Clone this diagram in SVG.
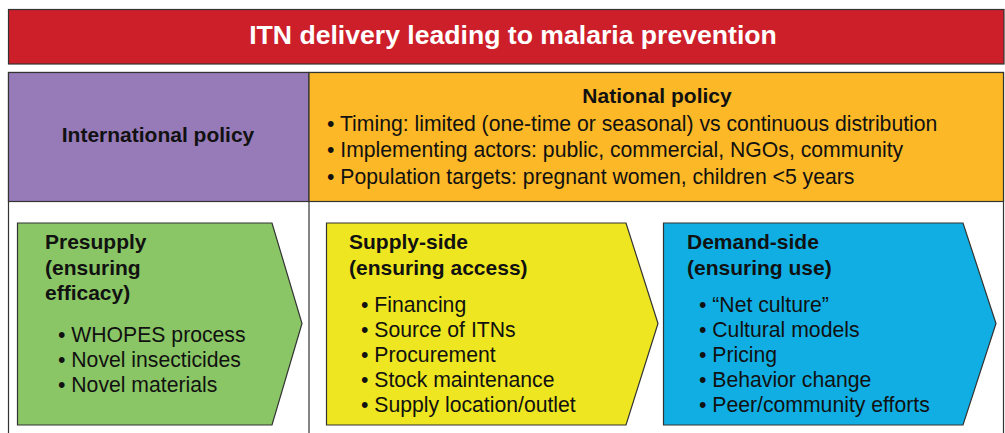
<svg xmlns="http://www.w3.org/2000/svg" width="1005" height="433" viewBox="0 0 1005 433">
<style>
text{font-family:"Liberation Sans",Arial,sans-serif;fill:#111}
.b{font-weight:bold;font-size:21px}
.r{font-size:21.2px}
.t{font-weight:bold;font-size:26.6px;fill:#fff}
.box{stroke:#333;stroke-width:1.2}
</style>
<rect width="1005" height="433" fill="#fff"/>
<g id="title">
<rect class="box" x="8.5" y="9.5" width="995.5" height="54.5" fill="#CC1F2A"/>
<text class="t" x="513" y="44" text-anchor="middle">ITN delivery leading to malaria prevention</text>
</g>
<g id="frame">
<rect class="box" x="8.5" y="72.5" width="995" height="370" fill="#fff"/>
<line class="box" x1="309" y1="72.5" x2="309" y2="440"/>
</g>
<g id="international">
<rect class="box" x="8.5" y="72.5" width="300.5" height="129" fill="#977BB8"/>
<text class="b" x="158" y="142" text-anchor="middle">International policy</text>
</g>
<g id="national">
<rect class="box" x="309" y="72.5" width="694.5" height="129" fill="#FCB827"/>
<text class="b" x="657" y="103" text-anchor="middle">National policy</text>
<text class="r" x="327" y="131">• Timing: limited (one-time or seasonal) vs continuous distribution</text>
<text class="r" x="327" y="157">• Implementing actors: public, commercial, NGOs, community</text>
<text class="r" x="327" y="184">• Population targets: pregnant women, children &lt;5 years</text>
</g>
<g id="presupply">
<polygon class="box" points="17.5,223 272,223 302,323.5 272,425 17.5,425" fill="#8AC665"/>
<text class="b" x="45" y="249">Presupply</text>
<text class="b" x="45" y="275">(ensuring</text>
<text class="b" x="45" y="300">efficacy)</text>
<text class="r" x="58" y="342">• WHOPES process</text>
<text class="r" x="58" y="367">• Novel insecticides</text>
<text class="r" x="58" y="392">• Novel materials</text>
</g>
<g id="supply">
<polygon class="box" points="326.5,223 626,223 658,323.5 626,425 326.5,425" fill="#EEE620"/>
<text class="b" x="349" y="249">Supply-side</text>
<text class="b" x="349" y="275">(ensuring access)</text>
<text class="r" x="361" y="312">• Financing</text>
<text class="r" x="361" y="337">• Source of ITNs</text>
<text class="r" x="361" y="362">• Procurement</text>
<text class="r" x="361" y="387">• Stock maintenance</text>
<text class="r" x="361" y="412">• Supply location/outlet</text>
</g>
<g id="demand">
<polygon class="box" points="663.5,223 963,223 996,323.5 963,425 663.5,425" fill="#10AEE3"/>
<text class="b" x="687" y="249">Demand-side</text>
<text class="b" x="687" y="275">(ensuring use)</text>
<text class="r" x="699" y="312">• “Net culture”</text>
<text class="r" x="699" y="337">• Cultural models</text>
<text class="r" x="699" y="362">• Pricing</text>
<text class="r" x="699" y="387">• Behavior change</text>
<text class="r" x="699" y="412">• Peer/community efforts</text>
</g>
<g id="connectors"></g>
</svg>
